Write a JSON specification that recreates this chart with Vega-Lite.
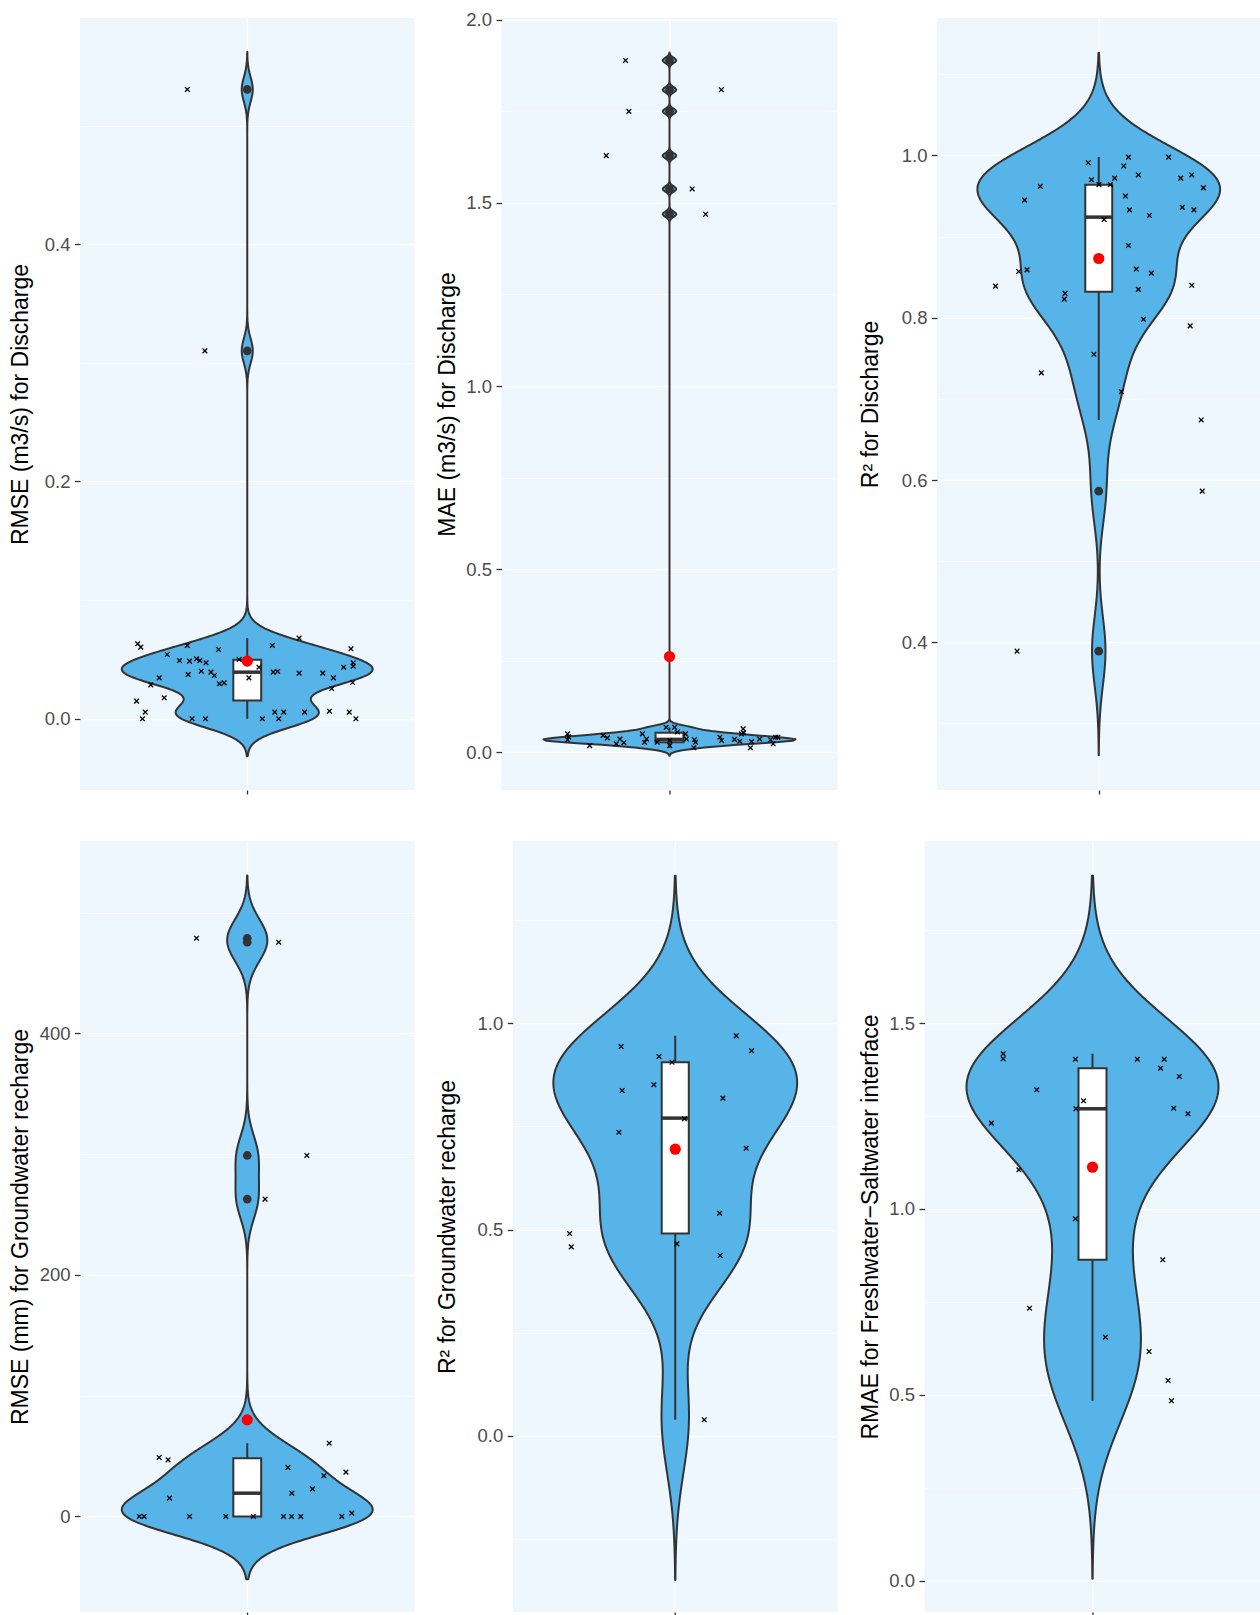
{
  "$schema": "https://vega.github.io/schema/vega-lite/v6.json",
  "padding": {"left": 9, "top": 10, "right": 0, "bottom": 0},
  "background": "white",
  "datasets": {
    "p1": [
      {"v":0.0632,"j":0.607},{"v":0.0604,"j":0.618},{"v":0.0618,"j":0.785},{"v":0.0584,"j":0.897},{"v":0.0618,"j":1.090},{"v":0.0680,"j":1.186},{"v":0.0590,"j":1.372},{"v":0.0542,"j":0.713},{"v":0.0491,"j":0.757},{"v":0.0486,"j":0.793},{"v":0.0506,"j":0.818},{"v":0.0491,"j":0.830},{"v":0.0472,"j":0.852},{"v":0.0500,"j":0.971},{"v":0.0435,"j":1.042},{"v":0.0435,"j":1.346},{"v":0.0472,"j":1.380},{"v":0.0444,"j":1.380},{"v":0.0345,"j":0.684},{"v":0.0373,"j":0.788},{"v":0.0401,"j":0.835},{"v":0.0393,"j":0.870},{"v":0.0365,"j":0.882},{"v":0.0295,"j":0.900},{"v":0.0303,"j":0.917},{"v":0.0345,"j":1.006},{"v":0.0393,"j":1.093},{"v":0.0399,"j":1.109},{"v":0.0385,"j":1.186},{"v":0.0385,"j":1.271},{"v":0.0345,"j":1.309},{"v":0.0286,"j":0.654},{"v":0.0255,"j":1.303},{"v":0.0306,"j":1.378},{"v":0.0177,"j":0.702},{"v":0.0149,"j":0.603},{"v":0.0056,"j":0.634},{"v":0,"j":0.624},{"v":0,"j":0.802},{"v":0,"j":0.850},{"v":0,"j":1.054},{"v":0.0056,"j":1.099},{"v":0,"j":1.113},{"v":0.0056,"j":1.131},{"v":0.0056,"j":1.206},{"v":0.0064,"j":1.295},{"v":0.0056,"j":1.366},{"v":0,"j":1.390},{"v":0.5304,"j":0.785},{"v":0.3101,"j":0.848}
    ],
    "s1": [{"q1":0.0154,"med":0.0393,"q3":0.0497,"lo":0,"hi":0.068,"mean":0.0486}],
    "p2": [
      {"v":1.889,"j":0.843},{"v":1.809,"j":1.185},{"v":1.750,"j":0.855},{"v":1.629,"j":0.774},{"v":1.538,"j":1.081},{"v":1.469,"j":1.129},
      {"v":0.050,"j":0.636},{"v":0.042,"j":0.640},{"v":0.034,"j":0.636},{"v":0.018,"j":0.715},{"v":0.046,"j":0.763},{"v":0.039,"j":0.778},{"v":0.023,"j":0.810},{"v":0.036,"j":0.823},{"v":0.026,"j":0.837},{"v":0.050,"j":0.903},{"v":0.036,"j":0.918},{"v":0.027,"j":0.911},{"v":0.027,"j":0.956},{"v":0.068,"j":0.988},{"v":0.068,"j":1.018},{"v":0.055,"j":1.028},{"v":0.032,"j":1.001},{"v":0.018,"j":1.001},{"v":0.050,"j":1.057},{"v":0.036,"j":1.060},{"v":0.034,"j":1.089},{"v":0.027,"j":1.093},{"v":0.012,"j":1.087},{"v":0.041,"j":1.180},{"v":0.032,"j":1.186},{"v":0.035,"j":1.232},{"v":0.030,"j":1.251},{"v":0.064,"j":1.263},{"v":0.053,"j":1.265},{"v":0.050,"j":1.257},{"v":0.029,"j":1.293},{"v":0.012,"j":1.289},{"v":0.036,"j":1.322},{"v":0.034,"j":1.361},{"v":0.023,"j":1.370},{"v":0.041,"j":1.379},{"v":0.041,"j":1.387}
    ],
    "s2": [{"q1":0.027,"med":0.035,"q3":0.053,"lo":0.012,"hi":0.068,"mean":0.2613}],
    "p3": [
      {"v":0.991,"j":0.961},{"v":0.998,"j":1.110},{"v":0.998,"j":1.259},{"v":0.987,"j":1.093},{"v":0.976,"j":1.147},{"v":0.970,"j":0.973},{"v":0.972,"j":1.059},{"v":0.964,"j":1.001},{"v":0.964,"j":1.043},{"v":0.972,"j":1.304},{"v":0.976,"j":1.345},{"v":0.960,"j":1.388},{"v":0.962,"j":0.783},{"v":0.945,"j":0.725},{"v":0.950,"j":1.099},{"v":0.933,"j":1.114},{"v":0.936,"j":1.310},{"v":0.933,"j":1.353},{"v":0.926,"j":1.188},{"v":0.921,"j":1.020},{"v":0.889,"j":1.110},{"v":0.857,"j":0.703},{"v":0.859,"j":0.734},{"v":0.860,"j":1.139},{"v":0.855,"j":1.195},{"v":0.839,"j":0.617},{"v":0.840,"j":1.345},{"v":0.835,"j":1.147},{"v":0.830,"j":0.875},{"v":0.823,"j":0.872},{"v":0.798,"j":1.166},{"v":0.790,"j":1.339},{"v":0.755,"j":0.982},{"v":0.732,"j":0.787},{"v":0.709,"j":1.084},{"v":0.674,"j":1.380},{"v":0.5863,"j":1.384},{"v":0.3891,"j":0.697}
    ],
    "s3": [{"q1":0.832,"med":0.924,"q3":0.964,"lo":0.674,"hi":0.998,"mean":0.873}],
    "p4": [
      {"v":478.9,"j":0.818},{"v":475.6,"j":1.113},{"v":299.0,"j":1.214},{"v":262.8,"j":1.064},{"v":48.9,"j":0.684},{"v":46.9,"j":0.716},{"v":40.6,"j":1.146},{"v":60.7,"j":1.294},{"v":36.7,"j":1.354},{"v":33.7,"j":1.275},{"v":22.9,"j":1.234},{"v":19.3,"j":1.160},{"v":15.2,"j":0.721},{"v":2.8,"j":1.375},{"v":0,"j":0.613},{"v":0,"j":0.630},{"v":0,"j":0.793},{"v":0,"j":0.923},{"v":0,"j":1.022},{"v":0,"j":1.130},{"v":0,"j":1.159},{"v":0,"j":1.192},{"v":0,"j":1.339}
    ],
    "s4": [{"q1":0,"med":19.3,"q3":48.3,"lo":0,"hi":60.7,"mean":80.0}],
    "p5": [
      {"v":0.9435,"j":0.800},{"v":0.9694,"j":1.225},{"v":0.9331,"j":1.282},{"v":0.9193,"j":0.940},{"v":0.9055,"j":0.988},{"v":0.8507,"j":0.921},{"v":0.8369,"j":0.804},{"v":0.8183,"j":1.176},{"v":0.7683,"j":1.034},{"v":0.7358,"j":0.792},{"v":0.6971,"j":1.262},{"v":0.5395,"j":1.164},{"v":0.4903,"j":0.610},{"v":0.4580,"j":0.616},{"v":0.4653,"j":1.006},{"v":0.4370,"j":1.166},{"v":0.0388,"j":1.107}
    ],
    "s5": [{"q1":0.4903,"med":0.770,"q3":0.9055,"lo":0.0388,"hi":0.9694,"mean":0.6947}],
    "p6": [
      {"v":1.4174,"j":0.681},{"v":1.4040,"j":0.681},{"v":1.4029,"j":0.939},{"v":1.4029,"j":1.160},{"v":1.4029,"j":1.256},{"v":1.3787,"j":1.243},{"v":1.3564,"j":1.310},{"v":1.3206,"j":0.801},{"v":1.2910,"j":0.968},{"v":1.2695,"j":0.941},{"v":1.2711,"j":1.290},{"v":1.2561,"j":1.341},{"v":1.2308,"j":0.639},{"v":1.1054,"j":0.737},{"v":0.9737,"j":0.939},{"v":0.8634,"j":1.251},{"v":0.7332,"j":0.775},{"v":0.6552,"j":1.046},{"v":0.6167,"j":1.202},{"v":0.5387,"j":1.270},{"v":0.4841,"j":1.282}
    ],
    "s6": [{"q1":0.8634,"med":1.2695,"q3":1.3787,"lo":0.4841,"hi":1.4174,"mean":1.1124}]
  },
  "vconcat": [
    {
      "spacing": 21.5,
      "hconcat": [
        {
          "width": 334.5, "height": 772,
          "data": {"name": "p1"},
          "resolve": {"scale": {"x": "independent"}},
          "layer": [
            {
              "transform": [{"density": "v", "bandwidth": 0.0105, "extent": [-0.0315, 0.5619], "steps": 512, "as": ["v", "density"]}],
              "mark": {"type": "area", "orient": "horizontal", "fill": "#56B4E9", "stroke": "#333333", "strokeWidth": 2, "strokeJoin": "round"},
              "encoding": {
                "x": {"field": "density", "type": "quantitative", "stack": "center", "scale": {"padding": 41.8, "nice": false, "zero": false}, "axis": null},
                "y": {"field": "v", "type": "quantitative", "scale": {"domain": [-0.06, 0.5906], "nice": false, "zero": false},
                  "axis": {"title": "RMSE (m3/s) for Discharge", "values": [0, 0.1, 0.2, 0.3, 0.4, 0.5], "minExtent": 37, "maxExtent": 37, "titlePadding": 10.5,
                    "labelExpr": "abs(datum.value/0.2 - round(datum.value/0.2)) < 0.001 ? format(datum.value, '.1f') : ''",
                    "gridWidth": {"condition": {"test": "abs(datum.value/0.2 - round(datum.value/0.2)) < 0.001", "value": 1.4}, "value": 0.7},
                    "tickOpacity": {"condition": {"test": "abs(datum.value/0.2 - round(datum.value/0.2)) < 0.001", "value": 1}, "value": 0}}}
              }
            },
            {
              "layer": [
                {"data": {"name": "s1"}, "mark": {"type": "rule", "stroke": "#333333", "strokeWidth": 2},
                  "encoding": {"x": {"datum": 1, "type": "quantitative", "scale": {"domain": [0.4, 1.6], "nice": false, "zero": false}},
                    "y": {"field": "lo", "type": "quantitative", "scale": {"domain": [-0.06, 0.5906], "nice": false, "zero": false}}, "y2": {"field": "hi"}}},
                {"data": {"name": "s1"}, "mark": {"type": "rect", "fill": "white", "stroke": "#333333", "strokeWidth": 2},
                  "encoding": {"x": {"datum": 0.95, "type": "quantitative", "scale": {"domain": [0.4, 1.6], "nice": false, "zero": false}}, "x2": {"datum": 1.05},
                    "y": {"field": "q1", "type": "quantitative", "scale": {"domain": [-0.06, 0.5906], "nice": false, "zero": false}}, "y2": {"field": "q3"}}},
                {"data": {"name": "s1"}, "mark": {"type": "rule", "stroke": "#333333", "strokeWidth": 3.5},
                  "encoding": {"x": {"datum": 0.95, "type": "quantitative", "scale": {"domain": [0.4, 1.6], "nice": false, "zero": false}}, "x2": {"datum": 1.05},
                    "y": {"field": "med", "type": "quantitative", "scale": {"domain": [-0.06, 0.5906], "nice": false, "zero": false}}}},
                {"transform": [{"filter": "datum.v > 0.1"}], "mark": {"type": "point", "filled": true, "color": "#333333", "size": 75, "opacity": 1},
                  "encoding": {"x": {"datum": 1, "type": "quantitative", "scale": {"domain": [0.4, 1.6], "nice": false, "zero": false}},
                    "y": {"field": "v", "type": "quantitative", "scale": {"domain": [-0.06, 0.5906], "nice": false, "zero": false}}}},
                {"mark": {"type": "point", "shape": "M-1,-1L1,1M1,-1L-1,1", "filled": false, "color": "black", "strokeWidth": 1.3, "size": 22, "opacity": 1},
                  "encoding": {"x": {"field": "j", "type": "quantitative", "scale": {"domain": [0.4, 1.6], "nice": false, "zero": false}, "axis": {"values": [1], "labels": false, "title": null, "domain": false, "grid": true, "ticks": true}},
                    "y": {"field": "v", "type": "quantitative", "scale": {"domain": [-0.06, 0.5906], "nice": false, "zero": false}}}},
                {"data": {"name": "s1"}, "mark": {"type": "point", "filled": true, "color": "red", "size": 125, "opacity": 1},
                  "encoding": {"x": {"datum": 1, "type": "quantitative", "scale": {"domain": [0.4, 1.6], "nice": false, "zero": false}},
                    "y": {"field": "mean", "type": "quantitative", "scale": {"domain": [-0.06, 0.5906], "nice": false, "zero": false}}}}
              ]
            }
          ]
        },
        {
          "width": 336, "height": 772,
          "data": {"name": "p2"},
          "resolve": {"scale": {"x": "independent"}},
          "layer": [
            {
              "transform": [{"density": "v", "bandwidth": 0.0073, "extent": [-0.0099, 1.9109], "steps": 512, "as": ["v", "density"]}],
              "mark": {"type": "area", "orient": "horizontal", "fill": "#56B4E9", "stroke": "#333333", "strokeWidth": 2, "strokeJoin": "round"},
              "encoding": {
                "x": {"field": "density", "type": "quantitative", "stack": "center", "scale": {"padding": 42, "nice": false, "zero": false}, "axis": null},
                "y": {"field": "v", "type": "quantitative", "scale": {"domain": [-0.1032, 2.0049], "nice": false, "zero": false},
                  "axis": {"title": "MAE (m3/s) for Discharge", "values": [0, 0.25, 0.5, 0.75, 1, 1.25, 1.5, 1.75, 2], "minExtent": 37.7, "maxExtent": 37.7, "titlePadding": 4.3,
                    "labelExpr": "abs(datum.value/0.5 - round(datum.value/0.5)) < 0.001 ? format(datum.value, '.1f') : ''",
                    "gridWidth": {"condition": {"test": "abs(datum.value/0.5 - round(datum.value/0.5)) < 0.001", "value": 1.4}, "value": 0.7},
                    "tickOpacity": {"condition": {"test": "abs(datum.value/0.5 - round(datum.value/0.5)) < 0.001", "value": 1}, "value": 0}}}
              }
            },
            {
              "layer": [
                {"data": {"name": "s2"}, "mark": {"type": "rule", "stroke": "#333333", "strokeWidth": 2},
                  "encoding": {"x": {"datum": 1, "type": "quantitative", "scale": {"domain": [0.4, 1.6], "nice": false, "zero": false}},
                    "y": {"field": "lo", "type": "quantitative", "scale": {"domain": [-0.1032, 2.0049], "nice": false, "zero": false}}, "y2": {"field": "hi"}}},
                {"data": {"name": "s2"}, "mark": {"type": "rect", "fill": "white", "stroke": "#333333", "strokeWidth": 2},
                  "encoding": {"x": {"datum": 0.95, "type": "quantitative", "scale": {"domain": [0.4, 1.6], "nice": false, "zero": false}}, "x2": {"datum": 1.05},
                    "y": {"field": "q1", "type": "quantitative", "scale": {"domain": [-0.1032, 2.0049], "nice": false, "zero": false}}, "y2": {"field": "q3"}}},
                {"data": {"name": "s2"}, "mark": {"type": "rule", "stroke": "#333333", "strokeWidth": 3.5},
                  "encoding": {"x": {"datum": 0.95, "type": "quantitative", "scale": {"domain": [0.4, 1.6], "nice": false, "zero": false}}, "x2": {"datum": 1.05},
                    "y": {"field": "med", "type": "quantitative", "scale": {"domain": [-0.1032, 2.0049], "nice": false, "zero": false}}}},
                {"transform": [{"filter": "datum.v > 0.1"}], "mark": {"type": "point", "filled": true, "color": "#333333", "size": 75, "opacity": 1},
                  "encoding": {"x": {"datum": 1, "type": "quantitative", "scale": {"domain": [0.4, 1.6], "nice": false, "zero": false}},
                    "y": {"field": "v", "type": "quantitative", "scale": {"domain": [-0.1032, 2.0049], "nice": false, "zero": false}}}},
                {"mark": {"type": "point", "shape": "M-1,-1L1,1M1,-1L-1,1", "filled": false, "color": "black", "strokeWidth": 1.3, "size": 22, "opacity": 1},
                  "encoding": {"x": {"field": "j", "type": "quantitative", "scale": {"domain": [0.4, 1.6], "nice": false, "zero": false}, "axis": {"values": [1], "labels": false, "title": null, "domain": false, "grid": true, "ticks": true}},
                    "y": {"field": "v", "type": "quantitative", "scale": {"domain": [-0.1032, 2.0049], "nice": false, "zero": false}}}},
                {"data": {"name": "s2"}, "mark": {"type": "point", "filled": true, "color": "red", "size": 125, "opacity": 1},
                  "encoding": {"x": {"datum": 1, "type": "quantitative", "scale": {"domain": [0.4, 1.6], "nice": false, "zero": false}},
                    "y": {"field": "mean", "type": "quantitative", "scale": {"domain": [-0.1032, 2.0049], "nice": false, "zero": false}}}}
              ]
            }
          ]
        },
        {
          "width": 323.5, "height": 772,
          "data": {"name": "p3"},
          "resolve": {"scale": {"x": "independent"}},
          "layer": [
            {
              "transform": [{"density": "v", "bandwidth": 0.0428, "extent": [0.2607, 1.1264], "steps": 512, "as": ["v", "density"]}],
              "mark": {"type": "area", "orient": "horizontal", "fill": "#56B4E9", "stroke": "#333333", "strokeWidth": 2, "strokeJoin": "round"},
              "encoding": {
                "x": {"field": "density", "type": "quantitative", "stack": "center", "scale": {"padding": 40.4, "nice": false, "zero": false}, "axis": null},
                "y": {"field": "v", "type": "quantitative", "scale": {"domain": [0.218, 1.1694], "nice": false, "zero": false},
                  "axis": {"title": "R² for Discharge", "values": [0.3, 0.4, 0.5, 0.6, 0.7, 0.8, 0.9, 1.0, 1.1], "minExtent": 36, "maxExtent": 36, "titlePadding": 19,
                    "labelExpr": "abs(datum.value/0.2 - round(datum.value/0.2)) < 0.001 ? format(datum.value, '.1f') : ''",
                    "gridWidth": {"condition": {"test": "abs(datum.value/0.2 - round(datum.value/0.2)) < 0.001", "value": 1.4}, "value": 0.7},
                    "tickOpacity": {"condition": {"test": "abs(datum.value/0.2 - round(datum.value/0.2)) < 0.001", "value": 1}, "value": 0}}}
              }
            },
            {
              "layer": [
                {"data": {"name": "s3"}, "mark": {"type": "rule", "stroke": "#333333", "strokeWidth": 2},
                  "encoding": {"x": {"datum": 1, "type": "quantitative", "scale": {"domain": [0.4, 1.6], "nice": false, "zero": false}},
                    "y": {"field": "lo", "type": "quantitative", "scale": {"domain": [0.218, 1.1694], "nice": false, "zero": false}}, "y2": {"field": "hi"}}},
                {"data": {"name": "s3"}, "mark": {"type": "rect", "fill": "white", "stroke": "#333333", "strokeWidth": 2},
                  "encoding": {"x": {"datum": 0.95, "type": "quantitative", "scale": {"domain": [0.4, 1.6], "nice": false, "zero": false}}, "x2": {"datum": 1.05},
                    "y": {"field": "q1", "type": "quantitative", "scale": {"domain": [0.218, 1.1694], "nice": false, "zero": false}}, "y2": {"field": "q3"}}},
                {"data": {"name": "s3"}, "mark": {"type": "rule", "stroke": "#333333", "strokeWidth": 3.5},
                  "encoding": {"x": {"datum": 0.95, "type": "quantitative", "scale": {"domain": [0.4, 1.6], "nice": false, "zero": false}}, "x2": {"datum": 1.05},
                    "y": {"field": "med", "type": "quantitative", "scale": {"domain": [0.218, 1.1694], "nice": false, "zero": false}}}},
                {"transform": [{"filter": "datum.v < 0.65"}], "mark": {"type": "point", "filled": true, "color": "#333333", "size": 75, "opacity": 1},
                  "encoding": {"x": {"datum": 1, "type": "quantitative", "scale": {"domain": [0.4, 1.6], "nice": false, "zero": false}},
                    "y": {"field": "v", "type": "quantitative", "scale": {"domain": [0.218, 1.1694], "nice": false, "zero": false}}}},
                {"mark": {"type": "point", "shape": "M-1,-1L1,1M1,-1L-1,1", "filled": false, "color": "black", "strokeWidth": 1.3, "size": 22, "opacity": 1},
                  "encoding": {"x": {"field": "j", "type": "quantitative", "scale": {"domain": [0.4, 1.6], "nice": false, "zero": false}, "axis": {"values": [1], "labels": false, "title": null, "domain": false, "grid": true, "ticks": true}},
                    "y": {"field": "v", "type": "quantitative", "scale": {"domain": [0.218, 1.1694], "nice": false, "zero": false}}}},
                {"data": {"name": "s3"}, "mark": {"type": "point", "filled": true, "color": "red", "size": 125, "opacity": 1},
                  "encoding": {"x": {"datum": 1, "type": "quantitative", "scale": {"domain": [0.4, 1.6], "nice": false, "zero": false}},
                    "y": {"field": "mean", "type": "quantitative", "scale": {"domain": [0.218, 1.1694], "nice": false, "zero": false}}}}
              ]
            }
          ]
        }
      ]
    },
    {
      "spacing": 21.75,
      "hconcat": [
        {
          "width": 334.5, "height": 771,
          "data": {"name": "p4"},
          "resolve": {"scale": {"x": "independent"}},
          "layer": [
            {
              "transform": [{"density": "v", "bandwidth": 17.3, "extent": [-51.9, 530.8], "steps": 512, "as": ["v", "density"]}],
              "mark": {"type": "area", "orient": "horizontal", "fill": "#56B4E9", "stroke": "#333333", "strokeWidth": 2, "strokeJoin": "round"},
              "encoding": {
                "x": {"field": "density", "type": "quantitative", "stack": "center", "scale": {"padding": 41.8, "nice": false, "zero": false}, "axis": null},
                "y": {"field": "v", "type": "quantitative", "scale": {"domain": [-79.1, 559.4], "nice": false, "zero": false},
                  "axis": {"title": "RMSE (mm) for Groundwater recharge", "values": [0, 100, 200, 300, 400, 500], "minExtent": 42, "maxExtent": 42, "titlePadding": 5.5,
                    "labelExpr": "abs(datum.value/200 - round(datum.value/200)) < 0.001 ? format(datum.value, 'd') : ''",
                    "gridWidth": {"condition": {"test": "abs(datum.value/200 - round(datum.value/200)) < 0.001", "value": 1.4}, "value": 0.7},
                    "tickOpacity": {"condition": {"test": "abs(datum.value/200 - round(datum.value/200)) < 0.001", "value": 1}, "value": 0}}}
              }
            },
            {
              "layer": [
                {"data": {"name": "s4"}, "mark": {"type": "rule", "stroke": "#333333", "strokeWidth": 2},
                  "encoding": {"x": {"datum": 1, "type": "quantitative", "scale": {"domain": [0.4, 1.6], "nice": false, "zero": false}},
                    "y": {"field": "lo", "type": "quantitative", "scale": {"domain": [-79.1, 559.4], "nice": false, "zero": false}}, "y2": {"field": "hi"}}},
                {"data": {"name": "s4"}, "mark": {"type": "rect", "fill": "white", "stroke": "#333333", "strokeWidth": 2},
                  "encoding": {"x": {"datum": 0.95, "type": "quantitative", "scale": {"domain": [0.4, 1.6], "nice": false, "zero": false}}, "x2": {"datum": 1.05},
                    "y": {"field": "q1", "type": "quantitative", "scale": {"domain": [-79.1, 559.4], "nice": false, "zero": false}}, "y2": {"field": "q3"}}},
                {"data": {"name": "s4"}, "mark": {"type": "rule", "stroke": "#333333", "strokeWidth": 3.5},
                  "encoding": {"x": {"datum": 0.95, "type": "quantitative", "scale": {"domain": [0.4, 1.6], "nice": false, "zero": false}}, "x2": {"datum": 1.05},
                    "y": {"field": "med", "type": "quantitative", "scale": {"domain": [-79.1, 559.4], "nice": false, "zero": false}}}},
                {"transform": [{"filter": "datum.v > 100"}], "mark": {"type": "point", "filled": true, "color": "#333333", "size": 75, "opacity": 1},
                  "encoding": {"x": {"datum": 1, "type": "quantitative", "scale": {"domain": [0.4, 1.6], "nice": false, "zero": false}},
                    "y": {"field": "v", "type": "quantitative", "scale": {"domain": [-79.1, 559.4], "nice": false, "zero": false}}}},
                {"mark": {"type": "point", "shape": "M-1,-1L1,1M1,-1L-1,1", "filled": false, "color": "black", "strokeWidth": 1.3, "size": 22, "opacity": 1},
                  "encoding": {"x": {"field": "j", "type": "quantitative", "scale": {"domain": [0.4, 1.6], "nice": false, "zero": false}, "axis": {"values": [1], "labels": false, "title": null, "domain": false, "grid": true, "ticks": true}},
                    "y": {"field": "v", "type": "quantitative", "scale": {"domain": [-79.1, 559.4], "nice": false, "zero": false}}}},
                {"data": {"name": "s4"}, "mark": {"type": "point", "filled": true, "color": "red", "size": 125, "opacity": 1},
                  "encoding": {"x": {"datum": 1, "type": "quantitative", "scale": {"domain": [0.4, 1.6], "nice": false, "zero": false}},
                    "y": {"field": "mean", "type": "quantitative", "scale": {"domain": [-79.1, 559.4], "nice": false, "zero": false}}}}
              ]
            }
          ]
        },
        {
          "width": 325, "height": 771,
          "data": {"name": "p5"},
          "resolve": {"scale": {"x": "independent"}},
          "layer": [
            {
              "transform": [{"density": "v", "bandwidth": 0.1294, "extent": [-0.3494, 1.3576], "steps": 512, "as": ["v", "density"]}],
              "mark": {"type": "area", "orient": "horizontal", "fill": "#56B4E9", "stroke": "#333333", "strokeWidth": 2, "strokeJoin": "round"},
              "encoding": {
                "x": {"field": "density", "type": "quantitative", "stack": "center", "scale": {"padding": 40.6, "nice": false, "zero": false}, "axis": null},
                "y": {"field": "v", "type": "quantitative", "scale": {"domain": [-0.427, 1.4416], "nice": false, "zero": false},
                  "axis": {"title": "R² for Groundwater recharge", "values": [-0.25, 0, 0.25, 0.5, 0.75, 1, 1.25], "minExtent": 35.3, "maxExtent": 35.3, "titlePadding": 17.7,
                    "labelExpr": "abs(datum.value/0.5 - round(datum.value/0.5)) < 0.001 ? format(datum.value, '.1f') : ''",
                    "gridWidth": {"condition": {"test": "abs(datum.value/0.5 - round(datum.value/0.5)) < 0.001", "value": 1.4}, "value": 0.7},
                    "tickOpacity": {"condition": {"test": "abs(datum.value/0.5 - round(datum.value/0.5)) < 0.001", "value": 1}, "value": 0}}}
              }
            },
            {
              "layer": [
                {"data": {"name": "s5"}, "mark": {"type": "rule", "stroke": "#333333", "strokeWidth": 2},
                  "encoding": {"x": {"datum": 1, "type": "quantitative", "scale": {"domain": [0.4, 1.6], "nice": false, "zero": false}},
                    "y": {"field": "lo", "type": "quantitative", "scale": {"domain": [-0.427, 1.4416], "nice": false, "zero": false}}, "y2": {"field": "hi"}}},
                {"data": {"name": "s5"}, "mark": {"type": "rect", "fill": "white", "stroke": "#333333", "strokeWidth": 2},
                  "encoding": {"x": {"datum": 0.95, "type": "quantitative", "scale": {"domain": [0.4, 1.6], "nice": false, "zero": false}}, "x2": {"datum": 1.05},
                    "y": {"field": "q1", "type": "quantitative", "scale": {"domain": [-0.427, 1.4416], "nice": false, "zero": false}}, "y2": {"field": "q3"}}},
                {"data": {"name": "s5"}, "mark": {"type": "rule", "stroke": "#333333", "strokeWidth": 3.5},
                  "encoding": {"x": {"datum": 0.95, "type": "quantitative", "scale": {"domain": [0.4, 1.6], "nice": false, "zero": false}}, "x2": {"datum": 1.05},
                    "y": {"field": "med", "type": "quantitative", "scale": {"domain": [-0.427, 1.4416], "nice": false, "zero": false}}}},
                {"mark": {"type": "point", "shape": "M-1,-1L1,1M1,-1L-1,1", "filled": false, "color": "black", "strokeWidth": 1.3, "size": 22, "opacity": 1},
                  "encoding": {"x": {"field": "j", "type": "quantitative", "scale": {"domain": [0.4, 1.6], "nice": false, "zero": false}, "axis": {"values": [1], "labels": false, "title": null, "domain": false, "grid": true, "ticks": true}},
                    "y": {"field": "v", "type": "quantitative", "scale": {"domain": [-0.427, 1.4416], "nice": false, "zero": false}}}},
                {"data": {"name": "s5"}, "mark": {"type": "point", "filled": true, "color": "red", "size": 125, "opacity": 1},
                  "encoding": {"x": {"datum": 1, "type": "quantitative", "scale": {"domain": [0.4, 1.6], "nice": false, "zero": false}},
                    "y": {"field": "mean", "type": "quantitative", "scale": {"domain": [-0.427, 1.4416], "nice": false, "zero": false}}}}
              ]
            }
          ]
        },
        {
          "width": 336, "height": 771,
          "data": {"name": "p6"},
          "resolve": {"scale": {"x": "independent"}},
          "layer": [
            {
              "transform": [{"density": "v", "bandwidth": 0.1596, "extent": [0.0053, 1.8962], "steps": 512, "as": ["v", "density"]}],
              "mark": {"type": "area", "orient": "horizontal", "fill": "#56B4E9", "stroke": "#333333", "strokeWidth": 2, "strokeJoin": "round"},
              "encoding": {
                "x": {"field": "density", "type": "quantitative", "stack": "center", "scale": {"padding": 42, "nice": false, "zero": false}, "axis": null},
                "y": {"field": "v", "type": "quantitative", "scale": {"domain": [-0.0839, 1.9897], "nice": false, "zero": false},
                  "axis": {"title": "RMAE for Freshwater−Saltwater interface", "values": [0, 0.25, 0.5, 0.75, 1, 1.25, 1.5, 1.75], "minExtent": 35.7, "maxExtent": 35.7, "titlePadding": 6.3,
                    "labelExpr": "abs(datum.value/0.5 - round(datum.value/0.5)) < 0.001 ? format(datum.value, '.1f') : ''",
                    "gridWidth": {"condition": {"test": "abs(datum.value/0.5 - round(datum.value/0.5)) < 0.001", "value": 1.4}, "value": 0.7},
                    "tickOpacity": {"condition": {"test": "abs(datum.value/0.5 - round(datum.value/0.5)) < 0.001", "value": 1}, "value": 0}}}
              }
            },
            {
              "layer": [
                {"data": {"name": "s6"}, "mark": {"type": "rule", "stroke": "#333333", "strokeWidth": 2},
                  "encoding": {"x": {"datum": 1, "type": "quantitative", "scale": {"domain": [0.4, 1.6], "nice": false, "zero": false}},
                    "y": {"field": "lo", "type": "quantitative", "scale": {"domain": [-0.0839, 1.9897], "nice": false, "zero": false}}, "y2": {"field": "hi"}}},
                {"data": {"name": "s6"}, "mark": {"type": "rect", "fill": "white", "stroke": "#333333", "strokeWidth": 2},
                  "encoding": {"x": {"datum": 0.95, "type": "quantitative", "scale": {"domain": [0.4, 1.6], "nice": false, "zero": false}}, "x2": {"datum": 1.05},
                    "y": {"field": "q1", "type": "quantitative", "scale": {"domain": [-0.0839, 1.9897], "nice": false, "zero": false}}, "y2": {"field": "q3"}}},
                {"data": {"name": "s6"}, "mark": {"type": "rule", "stroke": "#333333", "strokeWidth": 3.5},
                  "encoding": {"x": {"datum": 0.95, "type": "quantitative", "scale": {"domain": [0.4, 1.6], "nice": false, "zero": false}}, "x2": {"datum": 1.05},
                    "y": {"field": "med", "type": "quantitative", "scale": {"domain": [-0.0839, 1.9897], "nice": false, "zero": false}}}},
                {"mark": {"type": "point", "shape": "M-1,-1L1,1M1,-1L-1,1", "filled": false, "color": "black", "strokeWidth": 1.3, "size": 22, "opacity": 1},
                  "encoding": {"x": {"field": "j", "type": "quantitative", "scale": {"domain": [0.4, 1.6], "nice": false, "zero": false}, "axis": {"values": [1], "labels": false, "title": null, "domain": false, "grid": true, "ticks": true}},
                    "y": {"field": "v", "type": "quantitative", "scale": {"domain": [-0.0839, 1.9897], "nice": false, "zero": false}}}},
                {"data": {"name": "s6"}, "mark": {"type": "point", "filled": true, "color": "red", "size": 125, "opacity": 1},
                  "encoding": {"x": {"datum": 1, "type": "quantitative", "scale": {"domain": [0.4, 1.6], "nice": false, "zero": false}},
                    "y": {"field": "mean", "type": "quantitative", "scale": {"domain": [-0.0839, 1.9897], "nice": false, "zero": false}}}}
              ]
            }
          ]
        }
      ]
    }
  ],
  "spacing": 46,
  "config": {
    "font": "Liberation Sans",
    "view": {"fill": "#EEF6FE", "stroke": null},
    "axisY": {"domain": false, "grid": true, "gridColor": "white", "tickColor": "#333333", "tickWidth": 1.3, "tickSize": 5.5, "labelPadding": 4.5, "labelFont": "Liberation Sans", "labelFontSize": 18.5, "labelColor": "#4D4D4D", "labelFlush": false, "labelOverlap": false, "labelBound": false, "titleFont": "Liberation Sans", "titleFontSize": 23, "titleFontWeight": "normal", "titleColor": "black"},
    "axisX": {"domain": false, "labels": false, "grid": true, "gridColor": "white", "gridWidth": 1.4, "tickColor": "#333333", "tickWidth": 1.3, "tickSize": 4}
  }
}
